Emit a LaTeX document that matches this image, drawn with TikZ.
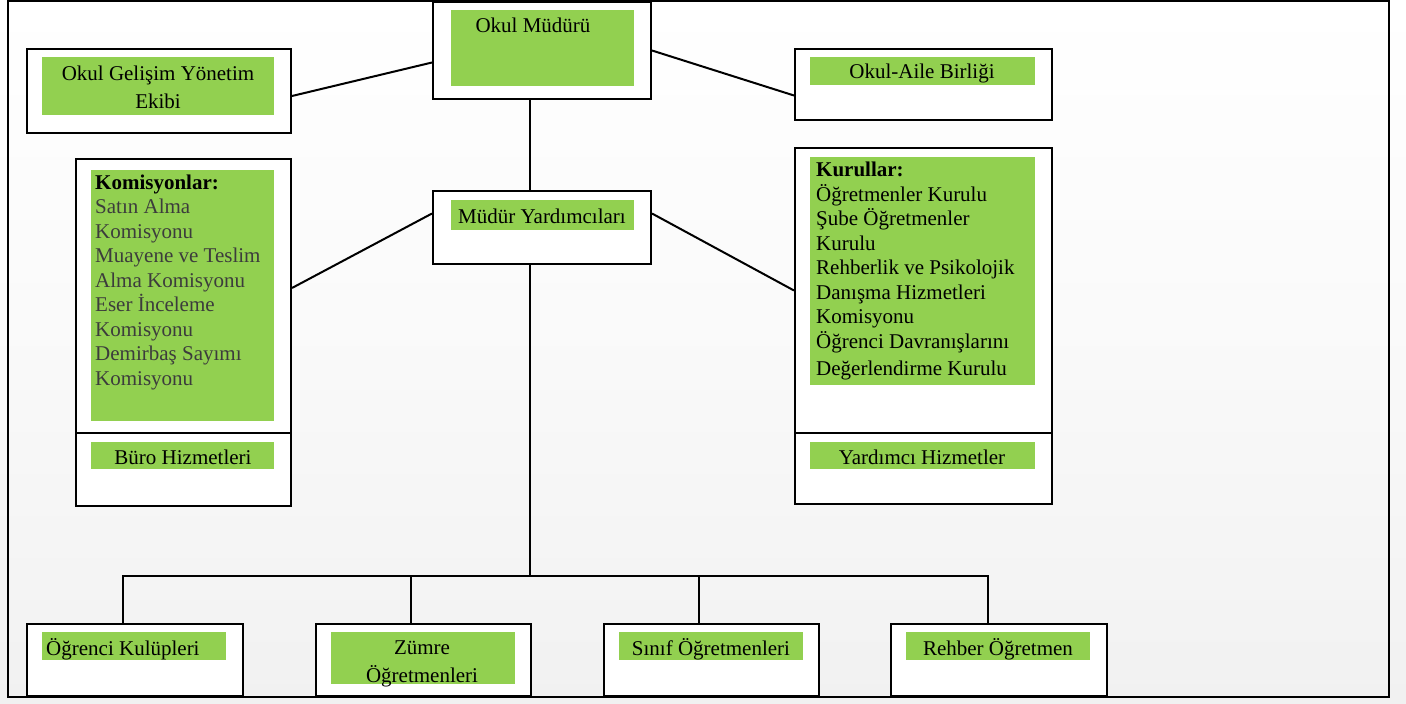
\documentclass[tikz,border=0pt]{standalone}
\usepackage{fontspec}
\setmainfont{Liberation Serif}
\definecolor{grn}{HTML}{92D050}
\definecolor{kgray}{HTML}{3C3C3C}
\definecolor{bgbot}{HTML}{F1F1F1}
\begin{document}
\begin{tikzpicture}[x=1pt,y=-1pt,
  frame/.style={draw=black, line width=2pt, fill=white, anchor=north west, inner sep=0pt},
  gbox/.style={fill=grn, draw=none, anchor=north west, inner sep=0pt},
  lbl/.style={font=\fontsize{21}{24.5}\selectfont, inner sep=0pt, text=black},
  conn/.style={line width=2pt}]
\useasboundingbox (0,0) rectangle (1406,704);
\fill[top color=white, bottom color=bgbot, middle color=white!60!bgbot] (0,0) rectangle (1406,704);
\draw[line width=2pt] (8,1) rectangle (1389,697);

% frames
\node[frame, minimum width=218pt, minimum height=97pt] (om) at (432,1) {};
\node[frame, minimum width=264pt, minimum height=84pt] (ogye) at (26,48) {};
\node[frame, minimum width=257pt, minimum height=71pt] (oab) at (794,48) {};
\node[frame, minimum width=218pt, minimum height=73pt] (my) at (432,190) {};
\node[frame, minimum width=215pt, minimum height=274pt] (kom) at (75,158) {};
\node[frame, minimum width=215pt, minimum height=73pt] (buro) at (75,432) {};
\node[frame, minimum width=257pt, minimum height=285pt] (kur) at (794,147) {};
\node[frame, minimum width=257pt, minimum height=71pt] (yard) at (794,432) {};
\node[frame, minimum width=216pt, minimum height=72pt] (ok) at (26,623) {};
\node[frame, minimum width=215pt, minimum height=72pt] (zm) at (315,623) {};
\node[frame, minimum width=215pt, minimum height=72pt] (so) at (603,623) {};
\node[frame, minimum width=216pt, minimum height=72pt] (ro) at (890,623) {};

% connectors
\coordinate (myb) at ([xshift=-12pt]my.south);
\coordinate (hub) at (myb |- 0,576);
\draw[conn] ([yshift=-12pt]om.west) -- ([yshift=-5pt]ogye.east);
\draw[conn] (om.east) -- ([yshift=-11pt]oab.west);
\draw[conn] ([xshift=-12pt]om.south) -- ([xshift=-12pt]my.north);
\draw[conn] ([yshift=14pt]my.west) -- ([yshift=8pt]kom.east);
\draw[conn] ([yshift=14pt]my.east) -- (kur.west);
\draw[conn] (myb) -- (hub);
\draw[conn] ([xshift=-12pt]ok.north) |- (hub);
\draw[conn] ([xshift=-12.5pt]zm.north) |- (hub);
\draw[conn] ([xshift=-12.5pt]so.north) |- (hub);
\draw[conn] ([xshift=-11pt]ro.north) |- (hub);

% green panels
\node[gbox, minimum width=183pt, minimum height=76pt] (omg) at (451,10) {};
\node[gbox, minimum width=232pt, minimum height=58pt] (ogyeg) at (42,57) {};
\node[gbox, minimum width=225pt, minimum height=28pt] (oabg) at (810,57) {};
\node[gbox, minimum width=183pt, minimum height=30pt] (myg) at (451,200) {};
\node[gbox, minimum width=183pt, minimum height=251pt] (komg) at (91,170) {};
\node[gbox, minimum width=183pt, minimum height=27pt] (burog) at (91,442) {};
\node[gbox, minimum width=225pt, minimum height=228pt] (kurg) at (810,157) {};
\node[gbox, minimum width=225pt, minimum height=27pt] (yardg) at (810,442) {};
\node[gbox, minimum width=184pt, minimum height=28pt] (okg) at (42,632) {};
\node[gbox, minimum width=184pt, minimum height=52pt] (zmg) at (331,632) {};
\node[gbox, minimum width=184pt, minimum height=28pt] (sog) at (619,632) {};
\node[gbox, minimum width=184pt, minimum height=28pt] (rog) at (906,632) {};

% texts
\node[lbl] (tom) at (533,25) {Okul Müdürü};
\node[lbl, align=center, font=\fontsize{21}{28}\selectfont] (togye) at (158,87) {Okul Gelişim Yönetim\\Ekibi};
\node[lbl] (toab) at (922,73) {Okul-Aile Birliği};
\node[lbl] (tmy) at (542,216) {Müdür Yardımcıları};
\node[lbl, anchor=north west, align=left] (tkom) at (95,174.5) {\textbf{Komisyonlar:}\\\color{kgray}Satın Alma\\\color{kgray}Komisyonu\\\color{kgray}Muayene ve Teslim\\\color{kgray}Alma Komisyonu\\\color{kgray}Eser İnceleme\\\color{kgray}Komisyonu\\\color{kgray}Demirbaş Sayımı\\\color{kgray}Komisyonu};
\node[lbl] (tburo) at (183,457) {Büro Hizmetleri};
\node[lbl, anchor=north west, align=left] (tkur) at (816,162) {\textbf{Kurullar:}\\Öğretmenler Kurulu\\Şube Öğretmenler\\Kurulu\\Rehberlik ve Psikolojik\\Danışma Hizmetleri\\Komisyonu\\Öğrenci Davranışlarını\\[2.5pt]Değerlendirme Kurulu};
\node[lbl] (tyard) at (922,457) {Yardımcı Hizmetler};
\node[lbl, anchor=west] (tok) at (46,649) {Öğrenci Kulüpleri};
\node[lbl, align=center, font=\fontsize{21}{28}\selectfont] (tzm) at (422,664) {Zümre\\Öğretmenleri};
\node[lbl] (tso) at (711,649) {Sınıf Öğretmenleri};
\node[lbl] (tro) at (998,649) {Rehber Öğretmen};
\end{tikzpicture}
\end{document}
